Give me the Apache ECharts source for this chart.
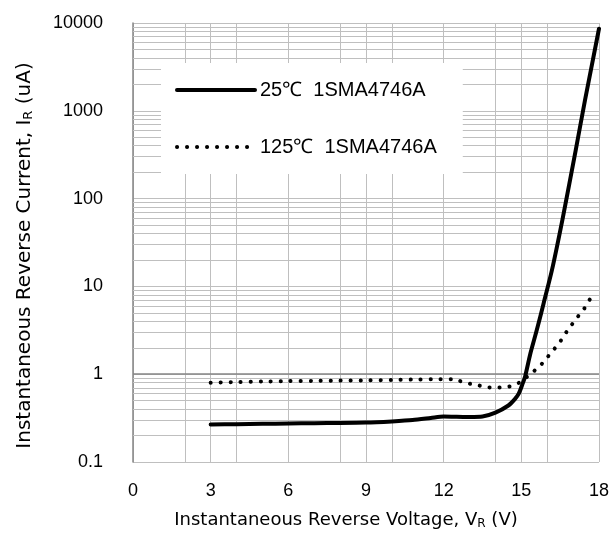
<!DOCTYPE html>
<html>
<head>
<meta charset="utf-8">
<script src="https://cdn.jsdelivr.net/npm/echarts@6/dist/echarts.min.js"></script>
<style>
html,body{margin:0;padding:0;background:#fff;}
#chart{width:612px;height:538px;}
</style>
</head>
<body>
<div id="chart"></div>
<script>
// ---- data ----
var seriesNames = ['25\u2103  1SMA4746A', '125\u2103  1SMA4746A'];
var xTicks = [0, 3, 6, 9, 12, 15, 18];
var yTickLabels = ['0.1', '1', '10', '100', '1000', '10000'];
var decades = [0.1, 1, 10, 100, 1000];
var minorMultipliers = [2, 3, 4, 5, 6, 7, 8, 9];

var v25 = [3, 4, 5, 6, 7, 8, 9, 10, 10.8, 11.5, 12, 12.5, 13, 13.5, 14, 14.5, 14.75, 14.9, 15.05, 15.15, 15.35, 15.6, 15.86, 16.18, 16.6, 17.1, 17.46, 18];
var i25 = [0.267, 0.27, 0.272, 0.275, 0.277, 0.278, 0.281, 0.29, 0.3, 0.317, 0.33, 0.327, 0.326, 0.33, 0.365, 0.44, 0.52, 0.6, 0.78, 0.95, 1.72, 3.2, 6.4, 15.2, 60, 355, 1320, 8600];

var v125 = [3, 4, 5, 6, 7, 8, 9, 10, 11, 11.8, 12.3, 12.6, 13, 13.35, 13.7, 14.1, 14.5, 14.85, 15.15, 15.45, 15.75, 16, 16.25, 16.5, 16.7, 16.9, 17.15, 17.4, 17.6, 17.85];
var i125 = [0.80, 0.815, 0.825, 0.835, 0.84, 0.845, 0.85, 0.86, 0.87, 0.875, 0.875, 0.84, 0.78, 0.745, 0.71, 0.705, 0.72, 0.78, 0.9, 1.06, 1.27, 1.55, 1.9, 2.35, 2.9, 3.5, 4.4, 5.4, 6.8, 8.5];

function pairs(xs, ys) { return xs.map(function (x, i) { return [x, ys[i]]; }); }

var minorLines = [];
decades.forEach(function (d) {
  minorMultipliers.forEach(function (m) { minorLines.push({ yAxis: d * m }); });
});

var FONT = 'Liberation Sans, Arial, sans-serif';
var TFONT = 'DejaVu Sans, sans-serif';
var GRID = '#bfbfbf';
var AXIS = '#868686';

var chart = echarts.init(document.getElementById('chart'), null, { renderer: 'canvas' });
chart.setOption({
  animation: false,
  backgroundColor: '#ffffff',
  textStyle: { fontFamily: FONT },
  grid: { left: 133, right: 10, top: 23, bottom: 76, containLabel: false },
  legend: {
    orient: 'vertical',
    left: 161,
    top: 63,
    padding: [17, 26, 17, 14],
    itemGap: 37,
    itemWidth: 78,
    itemHeight: 20,
    backgroundColor: '#ffffff',
    itemStyle: { opacity: 0 },
    lineStyle: { width: 4 },
    textStyle: { fontFamily: FONT, fontSize: 20, color: '#000', padding: [7, 0, 0, 0] },
    data: seriesNames
  },
  xAxis: [
    {
      type: 'value', min: 0, max: 18, interval: 3,
      axisLine: { show: false }, axisTick: { show: false },
      axisLabel: {
        margin: 20, fontSize: 18, color: '#000', fontFamily: FONT,
        formatter: function (v) { return xTicks.indexOf(v) >= 0 ? String(v) : ''; }
      },
      splitLine: { show: true, lineStyle: { color: GRID, width: 1 } },
      name: 'Instantaneous Reverse Voltage, V{sub|R} (V)',
      nameLocation: 'middle', nameGap: 49,
      nameTextStyle: {
        fontSize: 18, color: '#000', fontFamily: TFONT, padding: [0, 40, 0, 0],
        rich: { sub: { fontSize: 12, fontFamily: TFONT, color: '#000', padding: [7, 0, 0, 0] } }
      }
    },
    {
      type: 'value', min: 0, max: 18, interval: 2, position: 'bottom',
      axisLine: { show: false }, axisTick: { show: false }, axisLabel: { show: false },
      splitLine: { show: true, lineStyle: { color: GRID, width: 1 } }
    }
  ],
  yAxis: {
    type: 'log', logBase: 10, min: 0.1, max: 10000,
    axisLine: { show: true, lineStyle: { color: AXIS, width: 1.5 } },
    axisTick: { show: false },
    axisLabel: {
      margin: 30, fontSize: 18, color: '#000', fontFamily: FONT, padding: [0, 0, 6, 0],
      formatter: function (v, idx) { return yTickLabels[idx] !== undefined ? yTickLabels[idx] : ''; }
    },
    splitLine: { show: true, lineStyle: { color: GRID, width: 1 } },
    name: 'Instantaneous Reverse Current, I{sub|R} (uA)',
    nameLocation: 'middle', nameGap: 98,
    nameTextStyle: {
      fontSize: 20, color: '#000', fontFamily: TFONT, padding: [0, 26, 0, 0],
      rich: { sub: { fontSize: 13, fontFamily: TFONT, color: '#000', padding: [7, 0, 0, 0] } }
    }
  },
  series: [
    {
      name: seriesNames[0], type: 'line', xAxisIndex: 0,
      data: pairs(v25, i25), showSymbol: false, symbol: 'none',
      smooth: 0.25,
      lineStyle: { color: '#000', width: 4, cap: 'round', join: 'round' },
      itemStyle: { color: '#000' },
      z: 3,
      markLine: {
        silent: true, symbol: ['none', 'none'], label: { show: false },
        lineStyle: { color: GRID, width: 1, type: 'solid' },
        data: minorLines, z: 1, animation: false
      }
    },
    {
      name: seriesNames[1], type: 'line', xAxisIndex: 0,
      data: pairs(v125, i125), showSymbol: false, symbol: 'none',
      smooth: 0.25,
      lineStyle: { color: '#000', width: 4, type: [0.1, 9.9], cap: 'round' },
      itemStyle: { color: '#000' },
      z: 3,
      markLine: {
        silent: true, symbol: ['none', 'none'], label: { show: false },
        lineStyle: { color: AXIS, width: 1.5, type: 'solid' },
        data: [{ yAxis: 1 }], z: 2, animation: false
      }
    }
  ]
});
</script>
</body>
</html>
